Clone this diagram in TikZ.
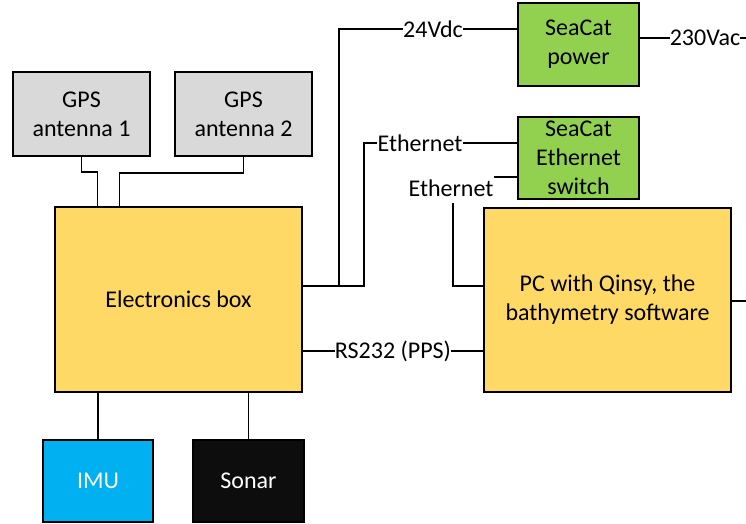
\documentclass[tikz,border=0pt]{standalone}
\usepackage{fontspec}
\setmainfont{Carlito}
\definecolor{gpsgray}{HTML}{D9D9D9}
\definecolor{boxyellow}{HTML}{FFD966}
\definecolor{boxgreen}{HTML}{92D050}
\definecolor{imublue}{HTML}{00B0F0}
\definecolor{sonarblack}{HTML}{0D0D0D}
\begin{document}
\begin{tikzpicture}[x=1pt,y=-1pt,
  box/.style={draw=black, line width=1.5pt, minimum width=#1, align=center, inner sep=0pt,
     font=\fontsize{24}{29}\selectfont},
  box/.default=120pt,
  lbl/.style={inner sep=0pt, font=\fontsize{24}{29}\selectfont},
  wire/.style={line width=1.5pt}]
\useasboundingbox (0,0) rectangle (746,523);
% boxes
\node[box=137pt, minimum height=84pt, fill=gpsgray] (gps1) at (81.5,114) {GPS\\antenna 1};
\node[box=137pt, minimum height=84pt, fill=gpsgray] (gps2) at (243.5,114) {GPS\\antenna 2};
\node[box=247pt, minimum height=185pt, fill=boxyellow] (elec) at (178.5,299.5) {Electronics box};
\node[box=110pt, minimum height=82pt, fill=imublue, text=white] (imu) at (98,481) {IMU};
\node[box=111pt, minimum height=82pt, fill=sonarblack, text=white] (sonar) at (248.5,481) {Sonar};
\node[box=121pt, minimum height=83pt, fill=boxgreen] (power) at (578.5,44.5) {SeaCat\\power};
\node[box=121pt, minimum height=82pt, fill=boxgreen] (switch) at (578.5,158) {SeaCat\\Ethernet\\switch};
\node[box=247pt, minimum height=184pt, fill=boxyellow] (pc) at (607.5,300) {PC with Qinsy, the\\bathymetry software};
% labels
\node[lbl] (v24) at (433,29) {24Vdc};
\node[lbl] (ac) at (705,38) {230Vac};
\node[lbl] (eth1) at (420,143) {Ethernet};
\node[lbl] (eth2) at (451,188) {Ethernet};
\node[lbl] (rs) at (393,351) {RS232 (PPS)};
% helper coordinates
\coordinate (jy) at (0,286);
\coordinate (acend) at (746,38);
\coordinate (pcend) at (746,301);
\coordinate (ethtop) at (494,177);
\coordinate (ethlow) at (453,203);
% connectors
\draw[wire] (gps1.south) -- ++(0,15) -| ([xshift=43pt]elec.north west);
\draw[wire] (gps2.south) -- ++(0,16) -| ([xshift=65pt]elec.north west);
\draw[wire] (imu.north) -- (imu.north |- elec.south);
\draw[wire] (sonar.north) -- (sonar.north |- elec.south);
\draw[wire] (elec.east |- jy) -- (339,286) |- (v24.west);
\draw[wire] (v24.east) -- (power.west |- v24.east);
\draw[wire] (power.east |- ac.west) -- (ac.west);
\draw[wire] (ac.east) -- (acend);
\draw[wire] (339,286) -- (364,286) |- (eth1.west);
\draw[wire] (eth1.east) -- (switch.west |- eth1.east);
\draw[wire] (ethtop) -- (switch.west |- ethtop);
\draw[wire] (ethlow) |- (pc.west |- jy);
\draw[wire] (elec.east |- rs.west) -- (rs.west);
\draw[wire] (rs.east) -- (pc.west |- rs.east);
\draw[wire] (pc.east |- pcend) -- (pcend);
\end{tikzpicture}
\end{document}
